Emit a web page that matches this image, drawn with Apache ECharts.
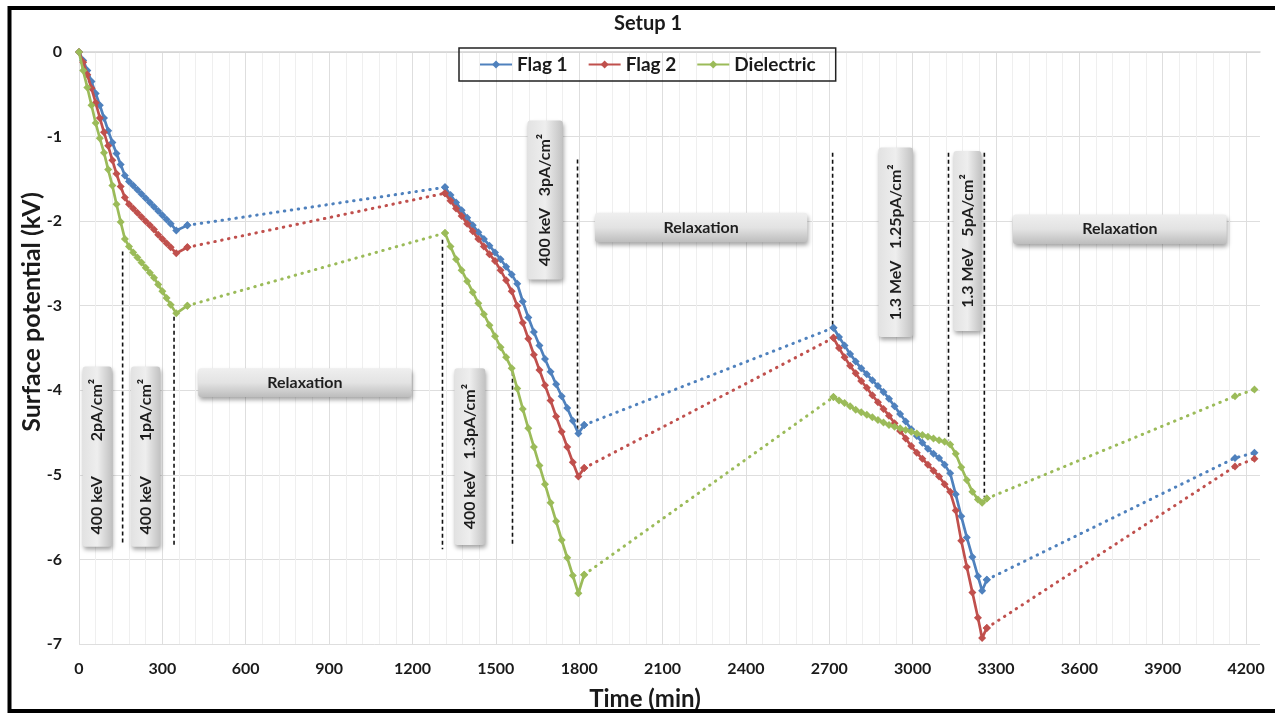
<!DOCTYPE html>
<html>
<head>
<meta charset="utf-8">
<script src="https://cdn.jsdelivr.net/npm/echarts@6/dist/echarts.min.js"></script>
<style>html,body{margin:0;padding:0;background:#fff}#chart{width:1275px;height:713px}</style>
</head>
<body>
<div id="chart"></div>
<script>
// ---- data ----
const phase1Time = [0,15,30,45,60,75,90,105,120,135,150,165,180,195,210,225,240,255,270,285,300,315,330,350,390];
const flag1Phase1 = [0,-0.10,-0.22,-0.35,-0.49,-0.63,-0.78,-0.93,-1.07,-1.20,-1.33,-1.46,-1.53,-1.58,-1.63,-1.68,-1.73,-1.78,-1.83,-1.88,-1.93,-1.98,-2.03,-2.11,-2.05];
const flag2Phase1 = [0,-0.12,-0.27,-0.43,-0.60,-0.78,-0.95,-1.11,-1.28,-1.44,-1.59,-1.72,-1.80,-1.85,-1.90,-1.95,-2.00,-2.05,-2.10,-2.16,-2.21,-2.26,-2.31,-2.38,-2.31];
const dielPhase1 = [0,-0.22,-0.42,-0.63,-0.84,-1.02,-1.19,-1.39,-1.58,-1.80,-2.01,-2.21,-2.30,-2.37,-2.43,-2.49,-2.55,-2.61,-2.67,-2.75,-2.83,-2.91,-2.99,-3.09,-3.00];

const phase2Time = [1317,1337,1357,1377,1397,1417,1437,1457,1477,1497,1517,1537,1557,1577,1597,1617,1637,1657,1677,1697,1717,1737,1757,1777,1797,1818];
const flag1Phase2 = [-1.60,-1.69,-1.78,-1.87,-1.96,-2.05,-2.13,-2.21,-2.29,-2.37,-2.45,-2.54,-2.63,-2.74,-2.95,-3.14,-3.31,-3.47,-3.63,-3.78,-3.93,-4.07,-4.21,-4.36,-4.51,-4.41];
const flag2Phase2 = [-1.67,-1.76,-1.85,-1.94,-2.03,-2.12,-2.21,-2.30,-2.39,-2.47,-2.58,-2.70,-2.83,-3.00,-3.20,-3.39,-3.58,-3.76,-3.94,-4.12,-4.31,-4.49,-4.67,-4.85,-5.02,-4.92];
const dielPhase2 = [-2.14,-2.30,-2.45,-2.58,-2.71,-2.84,-2.97,-3.10,-3.23,-3.36,-3.49,-3.61,-3.74,-3.98,-4.22,-4.45,-4.67,-4.89,-5.11,-5.33,-5.55,-5.77,-5.98,-6.19,-6.40,-6.18];

const phase3Time = [2715,2735,2755,2775,2795,2815,2835,2855,2875,2895,2915,2935,2955,2975,2995,3015,3035,3055,3075,3095,3115,3135,3155,3175,3195,3215,3235,3250,3267];
const flag1Phase3 = [-3.26,-3.37,-3.47,-3.57,-3.66,-3.74,-3.81,-3.88,-3.95,-4.02,-4.10,-4.19,-4.28,-4.37,-4.46,-4.54,-4.62,-4.69,-4.75,-4.80,-4.88,-4.98,-5.23,-5.49,-5.74,-5.97,-6.20,-6.37,-6.24];
const flag2Phase3 = [-3.38,-3.50,-3.61,-3.71,-3.80,-3.89,-3.97,-4.06,-4.14,-4.22,-4.30,-4.39,-4.48,-4.57,-4.66,-4.74,-4.81,-4.88,-4.95,-5.02,-5.11,-5.20,-5.42,-5.78,-6.09,-6.39,-6.69,-6.93,-6.81];
const dielPhase3 = [-4.08,-4.12,-4.15,-4.19,-4.23,-4.26,-4.29,-4.32,-4.35,-4.38,-4.41,-4.43,-4.45,-4.47,-4.49,-4.51,-4.53,-4.55,-4.57,-4.59,-4.61,-4.64,-4.75,-4.91,-5.06,-5.20,-5.29,-5.33,-5.28];

const relaxEndTime = [4160, 4230];
const flag1RelaxEnd = [-4.80, -4.74];
const flag2RelaxEnd = [-4.90, -4.81];
const dielRelaxEnd = [-4.07, -3.99];

const seriesNames = ['Flag 1', 'Flag 2', 'Dielectric'];
const xTicks = [0,300,600,900,1200,1500,1800,2100,2400,2700,3000,3300,3600,3900,4200];

// annotations (time / kV)
const dashX = [157, 342, 1308, 1560, 1794, 2712, 3129, 3258];
const dashTop = [-2.36, -3.13, -2.22, -3.78, -1.27, -1.19, -1.19, -1.19];
const dashBottom = [-5.80, -5.86, -5.88, -5.85, -4.47, -3.24, -4.59, -5.26];

const boxTexts = ['400 keV         2pA/cm²', '400 keV         1pA/cm²', 'Relaxation', '400 keV   1.3pA/cm²', '400 keV   3pA/cm²', 'Relaxation', '1.3 MeV   1.25pA/cm²', '1.3 MeV   5pA/cm²', 'Relaxation'];
const boxStart = [13, 187, 429, 1351, 1614, 1857, 2877, 3147, 3361];
const boxEnd = [118, 292, 1197, 1462, 1741, 2621, 3001, 3247, 4130];
const boxTop = [-3.72, -3.72, -3.74, -3.74, -0.81, -1.90, -1.13, -1.17, -1.92];
const boxBottom = [-5.85, -5.85, -4.08, -5.83, -2.69, -2.25, -3.37, -3.30, -2.27];
const boxVertical = [1, 1, 0, 1, 1, 0, 1, 1, 0];

// ---- build ----
const FONT = 'Lato';
const colors = ['#4F81BD', '#C0504D', '#9BBB59'];
function zip(t, v) { return t.map((x, i) => [x, v[i]]); }
function solid(p1, p2, p3) {
  return [...zip(phase1Time, p1), '-', ...zip(phase2Time, p2), '-', ...zip(phase3Time, p3)];
}
function relax(p1, p2, p3, end) {
  const last = (t, v) => [t[t.length - 1], v[v.length - 1]];
  return [last(phase1Time, p1), [phase2Time[0], p2[0]], '-',
          last(phase2Time, p2), [phase3Time[0], p3[0]], '-',
          last(phase3Time, p3), ...zip(relaxEndTime, end)];
}
const sets = [
  [flag1Phase1, flag1Phase2, flag1Phase3, flag1RelaxEnd],
  [flag2Phase1, flag2Phase2, flag2Phase3, flag2RelaxEnd],
  [dielPhase1, dielPhase2, dielPhase3, dielRelaxEnd]
];

const series = [];
sets.forEach((s, i) => {
  series.push({
    name: seriesNames[i], type: 'line', data: solid(s[0], s[1], s[2]),
    symbol: 'diamond', symbolSize: 8, z: 6 + i,
    lineStyle: { width: 2.7, color: colors[i] }, itemStyle: { color: colors[i] }
  });
});
sets.forEach((s, i) => {
  series.push({
    name: seriesNames[i] + ' relaxation', type: 'line', data: relax(s[0], s[1], s[2], s[3]),
    symbol: 'diamond', symbolSize: 8, z: 5,
    lineStyle: { width: 3, color: colors[i], type: [0.5, 6.5], cap: 'round' }, itemStyle: { color: colors[i] }
  });
});

series.push({
  type: 'custom', name: 'boxes', z: 2, silent: true,
  encode: { x: [0, 2], y: [1, 3] },
  data: boxStart.map((s, i) => [s, boxTop[i], boxEnd[i], boxBottom[i]]),
  renderItem: function (params, api) {
    const i = params.dataIndex;
    const a = api.coord([api.value(0), api.value(1)]);
    const b = api.coord([api.value(2), api.value(3)]);
    const vert = boxVertical[i] === 1;
    const grad = vert
      ? { type: 'linear', x: 0, y: 0, x2: 1, y2: 0, colorStops: [{ offset: 0, color: '#e2e2e2' }, { offset: 0.5, color: '#eeeeee' }, { offset: 1, color: '#c2c2c2' }] }
      : { type: 'linear', x: 0, y: 0, x2: 0, y2: 1, colorStops: [{ offset: 0, color: '#efefef' }, { offset: 0.5, color: '#e3e3e3' }, { offset: 1, color: '#bdbdbd' }] };
    return {
      type: 'group',
      children: [
        { type: 'rect', shape: { x: a[0], y: a[1], width: b[0] - a[0], height: b[1] - a[1], r: 3 },
          style: { fill: grad, shadowBlur: 4, shadowOffsetX: 1, shadowOffsetY: 3, shadowColor: 'rgba(0,0,0,0.35)' } },
        { type: 'text', x: (a[0] + b[0]) / 2, y: (a[1] + b[1]) / 2, rotation: vert ? Math.PI / 2 : 0,
          style: { text: boxTexts[i], fill: '#1e1e1e', font: 'bold 16px ' + FONT, align: 'center', verticalAlign: 'middle' } }
      ]
    };
  }
});

series.push({
  type: 'custom', name: 'dashes', z: 3, silent: true,
  encode: { x: 0, y: [1, 2] },
  data: dashX.map((x, i) => [x, dashTop[i], dashBottom[i]]),
  renderItem: function (params, api) {
    const a = api.coord([api.value(0), api.value(1)]);
    const b = api.coord([api.value(0), api.value(2)]);
    return { type: 'line', shape: { x1: a[0], y1: a[1], x2: b[0], y2: b[1] },
      style: { stroke: '#111', lineWidth: 1.6, lineDash: [4, 3] } };
  }
});

const chart = echarts.init(document.getElementById('chart'));
chart.setOption({
  animation: false,
  backgroundColor: '#fff',
  title: { text: 'Setup 1', left: 643, textAlign: 'center', top: 9,
    textStyle: { fontFamily: FONT, fontWeight: 'bold', fontSize: 20, color: '#1a1a1a' } },
  legend: {
    data: seriesNames, left: 459, top: 48,
    padding: [7, 20, 7, 20], itemGap: 20, itemWidth: 32, itemHeight: 10,
    borderColor: '#222', borderWidth: 1.5,
    textStyle: { fontFamily: FONT, fontWeight: 'bold', fontSize: 19, color: '#1a1a1a' }
  },
  grid: { left: 79, right: 15, top: 52, bottom: 69 },
  xAxis: {
    type: 'value', min: 0, max: 4250, interval: 300,
    axisLine: { show: true, lineStyle: { color: '#d4d4d4', width: 1.5 } },
    axisTick: { show: false },
    axisLabel: { margin: 17, fontFamily: FONT, fontWeight: 'bold', fontSize: 16, color: '#1a1a1a',
      formatter: v => (xTicks.indexOf(v) >= 0 ? String(v) : '') },
    splitLine: { show: true, showMaxLine: false, lineStyle: { color: '#dedede' } },
    minorTick: { show: false, splitNumber: 5 },
    minorSplitLine: { show: true, lineStyle: { color: '#efefef' } }
  },
  yAxis: {
    type: 'value', min: -7, max: 0, interval: 1,
    axisLine: { show: false }, axisTick: { show: false },
    axisLabel: { margin: 17, fontFamily: FONT, fontWeight: 'bold', fontSize: 16, color: '#1a1a1a' },
    splitLine: { show: true, lineStyle: { color: '#dedede' } }
  },
  graphic: [
    { type: 'rect', x: 9.5, y: 8, shape: { x: 0, y: 0, width: 1280, height: 703 },
      style: { fill: 'none', stroke: '#000', lineWidth: 4 }, z: 100 },
    { type: 'text', x: 32, y: 312, rotation: Math.PI / 2,
      style: { text: 'Surface potential (kV)', font: 'bold 25px ' + FONT, fill: '#1a1a1a', align: 'center', verticalAlign: 'middle' } },
    { type: 'text', x: 645, y: 699,
      style: { text: 'Time (min)', font: 'bold 24px ' + FONT, fill: '#1a1a1a', align: 'center', verticalAlign: 'middle' } }
  ],
  series: series
});
</script>
</body>
</html>
